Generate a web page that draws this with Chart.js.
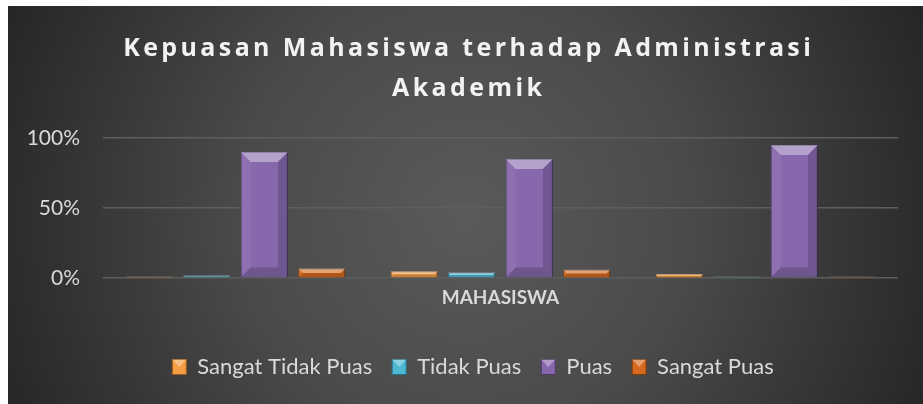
<!DOCTYPE html>
<html><head><meta charset="utf-8">
<script src="https://cdn.jsdelivr.net/npm/chart.js@4"></script>
<style>html,body{margin:0;padding:0;background:#fff;}#wrap{width:923px;height:404px;}</style>
</head><body><div id="wrap"><canvas id="c" width="923" height="404"></canvas></div>
<script>
const TITLE_LINES = ["Kepuasan Mahasiswa terhadap Administrasi", "Akademik"];
const CATEGORIES = ["1", "2", "3"];
const AXIS_TITLE = "MAHASISWA";
const SERIES_NAMES = ["Sangat Tidak Puas", "Tidak Puas", "Puas", "Sangat Puas"];
const SANGAT_TIDAK_PUAS = [1, 5, 3];
const TIDAK_PUAS = [2, 4, 1];
const PUAS = [90, 85, 95];
const SANGAT_PUAS = [7, 6, 1];
const Y_TICKS = [0, 50, 100];

const COLORS = ["#F59D45", "#4DB8D4", "#8768AD", "#D6691E"];
const BORDERS = ["#9a5a1c", "#2a7287", "#4a3866", "#7a3a0c"];
const SERIES = [SANGAT_TIDAK_PUAS, TIDAK_PUAS, PUAS, SANGAT_PUAS];

const bgPlugin = {
  id: 'bg',
  beforeDraw(chart) {
    const {ctx, width, height} = chart;
    ctx.save();
    ctx.fillStyle = '#ffffff';
    ctx.fillRect(0, 0, width, height);
    const g = ctx.createRadialGradient(465, 215, 0, 465, 215, 500);
    g.addColorStop(0, '#5a5a5a');
    g.addColorStop(0.45, '#4a4a4a');
    g.addColorStop(1, '#262626');
    ctx.fillStyle = g;
    ctx.fillRect(8, 6, width - 8, height - 6);
    // title
    ctx.font = 'bold 25px "Open Sans"';
    ctx.fillStyle = '#f2f2f2';
    ctx.textAlign = 'center';
    ctx.textBaseline = 'alphabetic';
    ctx.letterSpacing = '0px';
    const w0 = ctx.measureText(TITLE_LINES[0]).width;
    const sp = Math.max(0, (691 - w0) / TITLE_LINES[0].length);
    ctx.letterSpacing = sp + 'px';
    const ys = [56, 96];
    TITLE_LINES.forEach((t, i) => ctx.fillText(t, 467 + sp / 2, ys[i]));
    ctx.restore();
  },
  afterLayout(chart) {
    if (chart.legend) { chart.legend.left += 20; chart.legend.right += 20; }
  }
};

const bevelPlugin = {
  id: 'bevel',
  afterDatasetsDraw(chart) {
    const ctx = chart.ctx;
    ctx.save();
    chart.data.datasets.forEach((ds, di) => {
      const meta = chart.getDatasetMeta(di);
      meta.data.forEach(el => {
        const p = el.getProps(['x', 'y', 'base', 'width'], true);
        const l = p.x - p.width / 2, r = p.x + p.width / 2, t = Math.min(p.y, p.base), b = Math.max(p.y, p.base);
        const h = b - t;
        const bv = Math.min(10, h / 2, p.width / 2);
        if (h <= 0) return;
        const poly = (pts, col) => {
          ctx.beginPath();
          ctx.moveTo(pts[0][0], pts[0][1]);
          for (let k = 1; k < pts.length; k++) ctx.lineTo(pts[k][0], pts[k][1]);
          ctx.closePath();
          ctx.fillStyle = col;
          ctx.fill();
        };
        poly([[l, t], [r, t], [r - bv, t + bv], [l + bv, t + bv]], 'rgba(255,255,255,0.38)');
        poly([[l, b], [r, b], [r - bv, b - bv], [l + bv, b - bv]], 'rgba(0,0,0,0.18)');
        poly([[l, t], [l + bv, t + bv], [l + bv, b - bv], [l, b]], 'rgba(255,255,255,0.06)');
        poly([[r, t], [r - bv, t + bv], [r - bv, b - bv], [r, b]], 'rgba(0,0,0,0.16)');
      });
    });
    ctx.restore();
  },
  afterDraw(chart) {
    const lg = chart.legend;
    if (!lg || !lg.legendHitBoxes) return;
    const ctx = chart.ctx;
    ctx.save();
    lg.legendHitBoxes.forEach(hb => {
      const bw = 14, bh = 15;
      const x = hb.left, y = hb.top + (hb.height - bh) / 2;
      ctx.beginPath();
      ctx.moveTo(x, y); ctx.lineTo(x + bw, y); ctx.lineTo(x + bw / 2, y + bh / 2); ctx.closePath();
      ctx.fillStyle = 'rgba(255,255,255,0.35)';
      ctx.fill();
    });
    ctx.restore();
  }
};

new Chart(document.getElementById('c'), {
  type: 'bar',
  data: {
    labels: CATEGORIES,
    datasets: SERIES_NAMES.map((n, i) => ({
      label: n,
      data: SERIES[i],
      backgroundColor: COLORS[i],
      borderColor: BORDERS[i],
      borderWidth: 1,
      categoryPercentage: 0.868,
      barPercentage: 0.82
    }))
  },
  options: {
    responsive: false,
    animation: false,
    devicePixelRatio: 1,
    layout: { padding: { left: 8, right: 25, top: 138, bottom: 16 } },
    plugins: {
      title: { display: false },
      tooltip: { enabled: false },
      legend: {
        position: 'bottom',
        labels: {
          color: '#d9d9d9',
          font: { family: 'Lato', size: 22 },
          boxWidth: 14,
          boxHeight: 15,
          padding: 20
        }
      }
    },
    scales: {
      x: {
        ticks: { display: false },
        grid: { display: false, drawTicks: false },
        border: { display: false },
        title: {
          display: true,
          text: AXIS_TITLE,
          color: '#d9d9d9',
          font: { family: 'Lato', size: 19, weight: 'bold' },
          padding: { top: 8, bottom: 27 }
        }
      },
      y: {
        min: 0, max: 100,
        afterBuildTicks: s => { s.ticks = Y_TICKS.map(v => ({ value: v })); },
        afterFit: s => { s.width = 95; },
        ticks: {
          color: '#d9d9d9',
          font: { family: 'Lato', size: 21 },
          padding: 23,
          callback: v => v + '%'
        },
        grid: { color: '#5e5e5e', lineWidth: 1.5, drawTicks: false },
        border: { display: false }
      }
    }
  },
  plugins: [bgPlugin, bevelPlugin]
});
</script>
</body></html>
